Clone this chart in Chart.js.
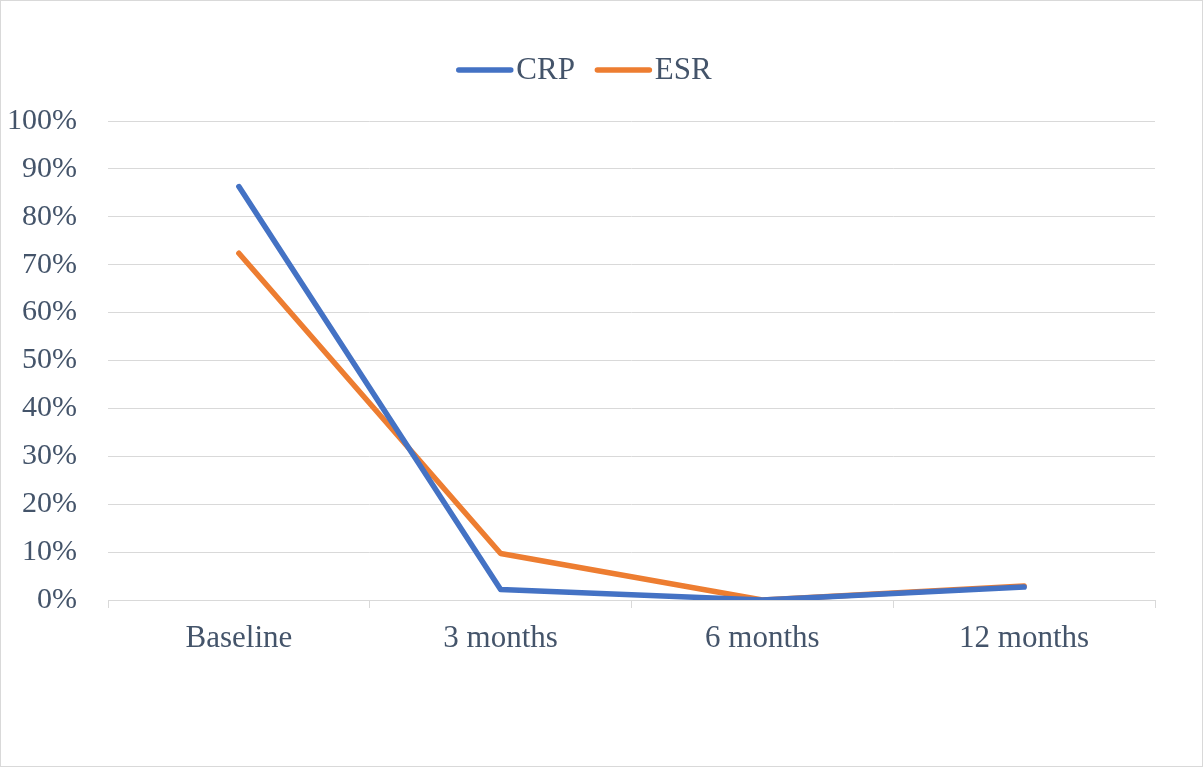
<!DOCTYPE html>
<html>
<head>
<meta charset="utf-8">
<script src="https://cdn.jsdelivr.net/npm/chart.js@4/dist/chart.umd.min.js"></script>
<style>
  html, body { margin: 0; padding: 0; background: #ffffff; }
  #wrap { position: relative; width: 1203px; height: 767px; }
  #chart { position: absolute; left: 0; top: 0; }
  #frame { position: absolute; left: 0; top: 0; width: 1203px; height: 767px;
           box-sizing: border-box; border: 1px solid #d9d9d9; pointer-events: none; }
</style>
</head>
<body>
<div id="wrap">
  <canvas id="chart" width="1203" height="767"></canvas>
  <div id="frame"></div>
</div>
<script>
// Time points and the share of patients (%) with raised markers
const categories = ['Baseline', '3 months', '6 months', '12 months'];
const crpValues = [86.3, 2.2, 0, 2.7];
const esrValues = [72.4, 9.7, 0, 2.9];
const yTickStep = 10;
const yMax = 100;

const textColor = '#44546A';
const gridColor = '#D9D9D9';
const serif = "'Liberation Serif', 'Times New Roman', serif";

// Compact legend: short line swatch followed closely by the series name
const compactLegend = {
  id: 'compactLegend',
  afterDraw(chart, args, opts) {
    const ctx = chart.ctx;
    const font = `${opts.fontSize}px ${serif}`;
    ctx.save();
    ctx.font = font;
    const items = chart.data.datasets.map(ds => ({
      ds, w: opts.swatch + opts.textGap + ctx.measureText(ds.label).width
    }));
    const total = items.reduce((s, it) => s + it.w, 0) + opts.itemGap * (items.length - 1);
    let x = opts.centerX - total / 2;
    const y = opts.centerY;
    for (const it of items) {
      ctx.strokeStyle = it.ds.borderColor;
      ctx.lineWidth = it.ds.borderWidth;
      ctx.lineCap = 'round';
      ctx.beginPath();
      ctx.moveTo(x + 2.5, y);
      ctx.lineTo(x + opts.swatch - 2.5, y);
      ctx.stroke();
      ctx.fillStyle = textColor;
      ctx.textBaseline = 'middle';
      ctx.textAlign = 'left';
      ctx.fillText(it.ds.label, x + opts.swatch + opts.textGap, y + 1);
      x += it.w + opts.itemGap;
    }
    ctx.restore();
  }
};

new Chart(document.getElementById('chart'), {
  type: 'line',
  data: {
    labels: categories,
    datasets: [
      {
        label: 'CRP',
        data: crpValues,
        borderColor: '#4472C4',
        backgroundColor: '#4472C4',
        borderWidth: 5.5,
        borderCapStyle: 'round',
        borderJoinStyle: 'round',
        pointRadius: 0,
        pointHoverRadius: 0,
        tension: 0
      },
      {
        label: 'ESR',
        data: esrValues,
        borderColor: '#ED7D31',
        backgroundColor: '#ED7D31',
        borderWidth: 5.5,
        borderCapStyle: 'round',
        borderJoinStyle: 'round',
        pointRadius: 0,
        pointHoverRadius: 0,
        tension: 0
      }
    ]
  },
  options: {
    responsive: false,
    animation: false,
    layout: { padding: { left: 0, right: 48, top: 121, bottom: 0 } },
    plugins: {
      tooltip: { enabled: false },
      legend: { display: false },
      compactLegend: {
        fontSize: 31, swatch: 57, textGap: 3, itemGap: 20,
        centerX: 584, centerY: 70
      }
    },
    scales: {
      x: {
        type: 'category',
        offset: true,
        grid: {
          offset: true,
          drawOnChartArea: false,
          drawTicks: true,
          tickLength: 8,
          color: gridColor,
          lineWidth: 1
        },
        border: { display: true, color: gridColor, width: 1 },
        ticks: {
          color: textColor,
          font: { family: serif, size: 31 },
          padding: 12,
          maxRotation: 0
        },
        afterFit(scale) { scale.height = 167; }
      },
      y: {
        min: 0,
        max: yMax,
        grid: { color: gridColor, lineWidth: 1, drawTicks: false },
        border: { display: false },
        ticks: {
          stepSize: yTickStep,
          color: textColor,
          font: { family: serif, size: 30 },
          padding: 31,
          callback: (v) => v + '%'
        },
        afterFit(scale) { scale.width = 108; }
      }
    }
  },
  plugins: [compactLegend]
});
</script>
</body>
</html>
